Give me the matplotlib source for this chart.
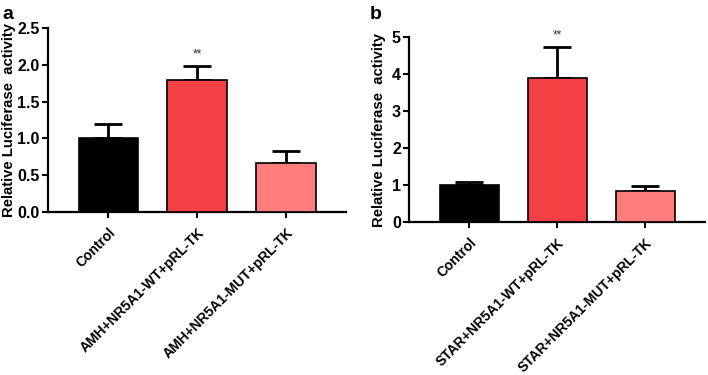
import matplotlib.pyplot as plt
import numpy as np

plt.rcParams['font.family'] = ['Liberation Sans', 'DejaVu Sans']
plt.rcParams['font.weight'] = 'bold'

# Data
labels_a = ["Control", "AMH+NR5A1-WT+pRL-TK", "AMH+NR5A1-MUT+pRL-TK"]
means_a = [1.0, 1.8, 0.66]
errs_a = [0.19, 0.19, 0.17]

labels_b = ["Control", "STAR+NR5A1-WT+pRL-TK", "STAR+NR5A1-MUT+pRL-TK"]
means_b = [1.0, 3.9, 0.83]
errs_b = [0.07, 0.82, 0.14]

colors = ['#000000', '#F44044', '#FF7D7D']

fig = plt.figure(figsize=(7.08, 3.75), dpi=100)
ax_a = fig.add_axes([0.068, 0.435, 0.421, 0.490])
ax_b = fig.add_axes([0.578, 0.408, 0.418, 0.493])


def draw_panel(ax, labels, means, errs, ymax, ystep, fmt, ylim_top, ylab_x):
    x = np.arange(len(labels))
    ax.bar(x, means, width=0.67, color=colors, edgecolor='black', linewidth=1.2, zorder=3)
    ax.errorbar(x, means, yerr=[np.zeros(len(errs)), errs], fmt='none',
                ecolor='black', elinewidth=2, capsize=10, capthick=2, zorder=2)
    # significance mark on the WT bar
    ax.text(x[1], means[1] + errs[1] + ylim_top * 0.03, '**', ha='center', va='bottom',
            fontsize=8.5, fontweight='normal', color='#333333')
    ax.set_xlim(-0.68, 2.68)
    ax.set_ylim(0, ylim_top)
    ax.set_yticks(np.arange(0, ymax + ystep / 2, ystep))
    ax.yaxis.set_major_formatter(plt.FormatStrFormatter(fmt))
    ax.set_xticks(x)
    ax.set_xticklabels(labels, rotation=45, ha='right', rotation_mode='anchor', fontsize=10)
    ax.tick_params(axis='both', width=1.5, length=4, labelsize=11.5, pad=2)
    ax.tick_params(axis='x', labelsize=10, pad=6)
    for side in ['top', 'right']:
        ax.spines[side].set_visible(False)
    for side in ['left', 'bottom']:
        ax.spines[side].set_linewidth(1.6)
    ax.set_ylabel("Relative Luciferase  activity", fontsize=10.7, fontweight='bold')
    ax.yaxis.set_label_coords(ylab_x, 0.5)


draw_panel(ax_a, labels_a, means_a, errs_a, 2.5, 0.5, '%.1f', 2.5, -0.108)
draw_panel(ax_b, labels_b, means_b, errs_b, 5, 1, '%d', 5, -0.08)

fig.text(0.004, 0.985, 'a', fontsize=14, fontweight='bold', va='top')
fig.text(0.522, 0.985, 'b', fontsize=14, fontweight='bold', va='top')

fig.savefig('out.png', dpi=100)
